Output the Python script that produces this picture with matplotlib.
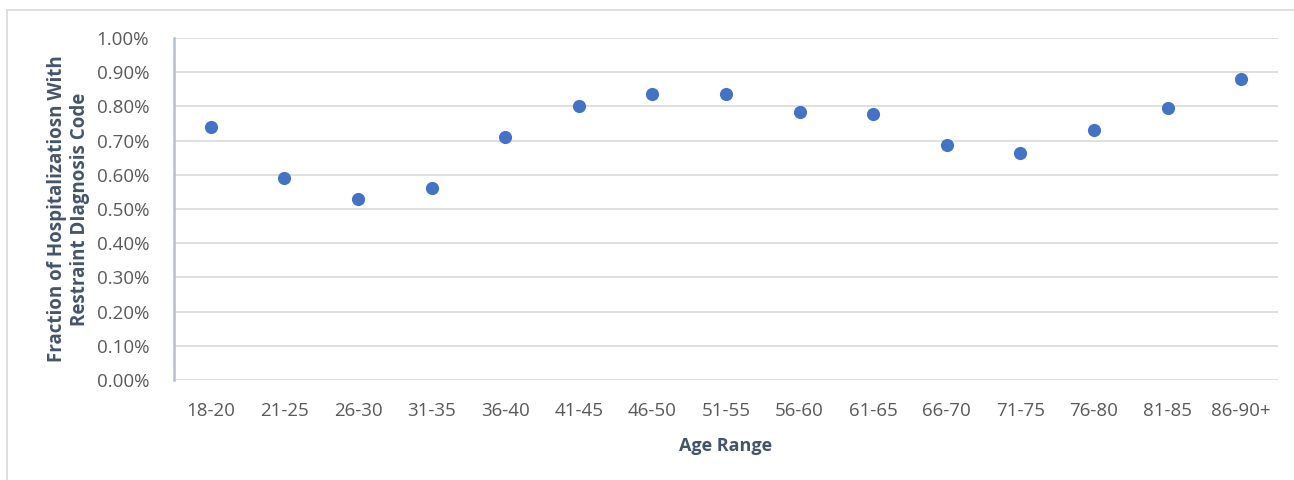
#!/usr/bin/env python3
"""
Restraint diagnosis code fraction by age range
"""
import matplotlib
matplotlib.use('Agg')
import matplotlib.pyplot as plt
from matplotlib.ticker import FuncFormatter, MultipleLocator
from matplotlib.patches import Rectangle

# data
ages = ['18-20', '21-25', '26-30', '31-35', '36-40', '41-45', '46-50', '51-55',
        '56-60', '61-65', '66-70', '71-75', '76-80', '81-85', '86-90+']
frac = [0.74, 0.59, 0.53, 0.56, 0.71, 0.80, 0.835, 0.835,
        0.783, 0.779, 0.686, 0.665, 0.731, 0.794, 0.880]

# setup figure
plt.rc('font', family=['Open Sans', 'DejaVu Sans'])
fig = plt.figure(figsize=(12.94, 4.8), dpi=100)
ax = fig.add_axes([0.1345, 0.2083, 0.8531, 0.7125])

# outer frame
fig.patches.append(Rectangle((7 / 1294, -0.01), 1.2, 1 - 10 / 480 + 0.01,
                             transform=fig.transFigure, fill=False,
                             edgecolor='#d9d9d9', linewidth=1.2))

# points
x = range(len(ages))
ax.scatter(x, frac, s=90, color='#4472c4', zorder=3, linewidths=0)

# axes
ax.set_xlim(-0.5, len(ages) - 0.5)
ax.set_ylim(0, 1.0)
ax.yaxis.set_major_locator(MultipleLocator(0.1))
ax.yaxis.set_major_formatter(FuncFormatter(lambda v, p: '%.2f%%' % v))
ax.set_xticks(list(x))
ax.set_xticklabels(ages)
ax.grid(axis='y', color='#d9d9d9', linewidth=1.2)
ax.set_axisbelow(True)
for s in ('top', 'right', 'bottom'):
    ax.spines[s].set_visible(False)
ax.spines['left'].set_color('#b4bfcf')
ax.spines['left'].set_linewidth(1.8)
ax.tick_params(axis='both', length=0, labelsize=13.5, colors='#595959')
ax.tick_params(axis='y', pad=18)
ax.tick_params(axis='x', pad=16)
ax.set_xlabel('Age Range', fontsize=13, fontweight='bold', color='#44546a',
              labelpad=12)
ax.set_ylabel('Fraction of Hospitalizatiosn With\nRestraint DIagnosis Code',
              fontsize=13.5, fontweight='bold', color='#44546a', labelpad=5,
              linespacing=1.15)

# finish up
fig.savefig('out.png', dpi=100)
